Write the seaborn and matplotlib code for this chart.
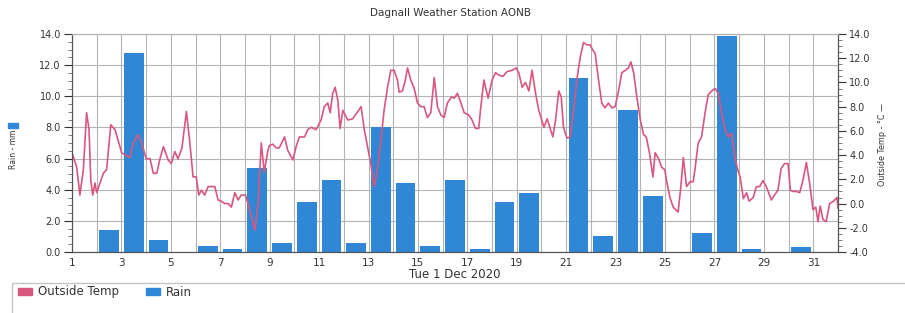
import matplotlib
matplotlib.use("Agg")
import matplotlib.pyplot as plt
import matplotlib.ticker as mticker
from matplotlib.patches import Patch, Rectangle
import seaborn as sns

# daily rain totals (mm), one bar per day of Dec 2020
rain_day = list(range(1, 32))
rain_mm = [0.0, 1.4, 12.8, 0.8, 0.0, 0.4, 0.2, 5.4, 0.6, 3.2,
           4.6, 0.6, 8.0, 4.4, 0.4, 4.6, 0.2, 3.2, 3.8, 0.0,
           11.2, 1.0, 9.1, 3.6, 0.0, 1.2, 13.9, 0.2, 0.0, 0.3, 0.0]

# outside temperature trace (day of month as decimal, deg C)
temp_day = [1.00, 1.19, 1.32, 1.46, 1.59, 1.69, 1.76, 1.84, 1.93, 2.00,
            2.10, 2.27, 2.40, 2.57, 2.74, 2.88, 3.01, 3.15, 3.35, 3.48,
            3.66, 3.82, 4.00, 4.16, 4.29, 4.43, 4.56, 4.70, 4.89, 5.02,
            5.16, 5.29, 5.45, 5.63, 5.76, 5.90, 6.03, 6.13, 6.24, 6.37,
            6.51, 6.64, 6.78, 6.91, 7.04, 7.18, 7.32, 7.45, 7.59, 7.72,
            7.85, 8.02, 8.19, 8.40, 8.53, 8.66, 8.78, 8.92, 8.99, 9.13,
            9.26, 9.39, 9.60, 9.73, 9.94, 10.07, 10.20, 10.41, 10.54, 10.68,
            10.88, 11.08, 11.21, 11.35, 11.45, 11.55, 11.65, 11.76, 11.85, 11.96,
            12.16, 12.36, 12.53, 12.70, 12.83, 12.96, 13.09, 13.23, 13.36, 13.50,
            13.63, 13.77, 13.90, 14.04, 14.17, 14.24, 14.37, 14.47, 14.58, 14.71,
            14.85, 14.98, 15.12, 15.25, 15.38, 15.52, 15.66, 15.79, 15.93, 16.06,
            16.19, 16.36, 16.47, 16.60, 16.74, 16.87, 17.06, 17.19, 17.33, 17.46,
            17.53, 17.67, 17.84, 18.00, 18.14, 18.28, 18.44, 18.61, 18.81, 18.98,
            19.08, 19.22, 19.35, 19.49, 19.62, 19.76, 19.89, 20.10, 20.23, 20.46,
            20.57, 20.70, 20.80, 20.89, 21.03, 21.16, 21.30, 21.43, 21.57, 21.70,
            21.84, 21.97, 22.04, 22.17, 22.31, 22.44, 22.57, 22.71, 22.85, 22.98,
            23.12, 23.25, 23.39, 23.52, 23.62, 23.73, 23.86, 24.00, 24.13, 24.24,
            24.37, 24.51, 24.60, 24.74, 24.86, 24.99, 25.06, 25.20, 25.33, 25.53,
            25.64, 25.74, 25.87, 26.01, 26.14, 26.21, 26.34, 26.48, 26.62, 26.75,
            26.89, 27.03, 27.15, 27.29, 27.43, 27.56, 27.69, 27.83, 27.94, 28.04,
            28.17, 28.30, 28.40, 28.57, 28.70, 28.83, 28.96, 29.10, 29.30, 29.43,
            29.57, 29.70, 29.84, 29.98, 30.07, 30.18, 30.32, 30.45, 30.58, 30.72,
            30.85, 30.99, 31.10, 31.19, 31.28, 31.39, 31.52, 31.66, 31.82, 31.96,
            32.00]
temp_c = [4.2, 3.0, 0.7, 2.8, 7.5, 6.1, 1.9, 0.7, 1.7, 0.9,
          1.5, 2.5, 2.8, 6.5, 6.1, 5.1, 4.2, 4.0, 3.8, 5.0,
          5.7, 5.0, 3.7, 3.7, 2.5, 2.5, 3.7, 4.7, 3.6, 3.3,
          4.3, 3.7, 4.6, 7.6, 5.2, 2.2, 2.2, 0.7, 1.1, 0.7,
          1.4, 1.4, 1.4, 0.3, 0.2, 0.0, 0.0, -0.3, 0.9, 0.3,
          0.7, 0.7, -0.5, -2.2, 0.0, 5.0, 2.6, 4.3, 4.8, 4.9,
          4.6, 4.6, 5.5, 4.4, 3.6, 4.7, 5.5, 5.5, 6.1, 6.3,
          6.1, 6.9, 8.0, 8.3, 7.5, 9.1, 9.6, 8.5, 6.2, 7.7,
          6.9, 7.0, 7.5, 8.0, 6.1, 4.7, 3.3, 1.4, 2.8, 5.2,
          7.7, 9.6, 11.0, 11.0, 10.2, 9.2, 9.3, 10.0, 11.2, 10.2,
          9.5, 8.3, 8.0, 8.0, 7.1, 7.5, 10.4, 8.0, 7.3, 7.1,
          8.3, 8.8, 8.7, 9.1, 8.3, 7.5, 7.3, 6.9, 6.2, 6.2,
          7.7, 10.2, 8.7, 10.2, 10.8, 10.6, 10.5, 10.9, 11.0, 11.2,
          10.8, 9.6, 10.0, 9.3, 11.0, 9.1, 7.7, 6.3, 7.0, 5.5,
          6.9, 9.3, 8.8, 6.3, 5.4, 5.5, 7.7, 10.2, 12.1, 13.3,
          13.1, 13.1, 12.8, 12.4, 10.2, 8.3, 7.9, 8.3, 7.9, 8.0,
          9.3, 10.8, 11.0, 11.2, 11.7, 10.8, 8.8, 6.9, 5.7, 5.5,
          4.2, 2.2, 4.2, 3.7, 3.0, 2.8, 1.9, 0.5, -0.3, -0.7,
          1.4, 3.8, 1.4, 1.8, 1.8, 2.8, 5.0, 5.5, 7.5, 9.0,
          9.3, 9.5, 9.1, 7.5, 6.1, 5.5, 5.8, 3.8, 2.8, 2.2,
          0.4, 0.9, 0.2, 0.5, 1.4, 1.4, 1.9, 1.4, 0.3, 0.7,
          1.1, 2.9, 3.3, 3.3, 1.1, 1.0, 1.0, 0.9, 1.9, 3.4,
          1.7, -0.5, -0.3, -1.5, -0.2, -1.3, -1.5, 0.0, 0.2, 0.5,
          -0.4]

day_ticks = list(range(1, 33))
day_labels = [str(d) if d % 2 == 1 else "" for d in day_ticks]

pink = "#d8577f"
blue = "#2f87d5"
grid_col = "#b4b4b4"
text_col = "#333333"

sns.set_style("white")
plt.rcParams["font.family"] = ["DejaVu Sans"]

fig = plt.figure(figsize=(9.05, 3.13), dpi=100)
ax = fig.add_axes([72 / 905, 1 - 252 / 313, 766 / 905, 218 / 313])
ax2 = ax.twinx()

# rain bars sit in the middle of each day slot
bar_x = [d + 0.5 for d in rain_day]
sns.barplot(x=bar_x, y=rain_mm, native_scale=True, width=0.8, color=blue,
            saturation=1, linewidth=0, errorbar=None, ax=ax, zorder=2)

sns.lineplot(x=temp_day, y=temp_c, color=pink, linewidth=1.2,
             estimator=None, ax=ax2, legend=False)

ax.set_xlim(1, 32)
ax.set_ylim(0, 14)
ax2.set_ylim(-4, 14)

ax.set_xticks(day_ticks)
ax.set_xticklabels(day_labels, fontsize=7.5, color=text_col)
ax.set_yticks([0, 2, 4, 6, 8, 10, 12, 14])
ax.yaxis.set_major_formatter(mticker.FormatStrFormatter("%.1f"))
ax.yaxis.set_minor_locator(mticker.MultipleLocator(0.5))
ax2.set_yticks([-4, -2, 0, 2, 4, 6, 8, 10, 12, 14])
ax2.yaxis.set_major_formatter(mticker.FormatStrFormatter("%.1f"))
ax2.yaxis.set_minor_locator(mticker.MultipleLocator(0.5))

ax.tick_params(axis="y", which="major", length=6, width=0.8, labelsize=7,
               colors=text_col, pad=2)
ax.tick_params(axis="y", which="minor", length=3, width=0.6, colors="#666666")
ax.tick_params(axis="x", which="major", length=3, width=0.8, pad=1,
               colors=text_col)
ax2.tick_params(axis="y", which="major", length=6, width=0.8, labelsize=7,
                colors=text_col, pad=2)
ax2.tick_params(axis="y", which="minor", length=3, width=0.6, colors="#666666")

ax.grid(True, which="major", color=grid_col, linewidth=0.8)
ax.set_axisbelow(True)
ax2.grid(False)

for a in (ax, ax2):
    a.spines["top"].set_color(grid_col)
    a.spines["left"].set_color("#555555")
    a.spines["right"].set_color("#555555")
    a.spines["bottom"].set_color("#555555")
    a.set_ylabel("")

ax.set_xlabel("Tue 1 Dec 2020", fontsize=8.5, color=text_col, labelpad=0)
fig.text(450 / 905, 1 - 13 / 313, "Dagnall Weather Station AONB",
         ha="center", va="center", fontsize=7.5, color=text_col)

# axis titles drawn at the figure edges, as in the station software
fig.text(13 / 905, 1 - 149 / 313, "Rain - mm", rotation=90, ha="center",
         va="center", fontsize=5.5, color=text_col)
fig.add_artist(Rectangle((8 / 905, 1 - 128 / 313), 10 / 905, 5 / 313,
                         transform=fig.transFigure, color=blue))
fig.text(882 / 905, 1 - 145 / 313, "Outside Temp - \u00b0C \u2014", rotation=90,
         ha="center", va="center", fontsize=5.8, color=text_col)

# legend panel along the bottom
fig.add_artist(Rectangle((12 / 905, -0.1), 1.1, 0.1 + 1 - 283 / 313,
                         transform=fig.transFigure, fill=False,
                         edgecolor="#c4c4c4", linewidth=1))
handles = [Patch(color=pink), Patch(color=blue)]
fig.legend(handles, ["Outside Temp", "Rain"], loc="center left",
           bbox_to_anchor=(13 / 905, 1 - 292 / 313), ncol=2, frameon=False,
           fontsize=8.5, handlelength=1.2, handleheight=0.5,
           handletextpad=0.5, columnspacing=2.3, borderaxespad=0,
           labelcolor=text_col)

fig.savefig("out.png", dpi=100)
